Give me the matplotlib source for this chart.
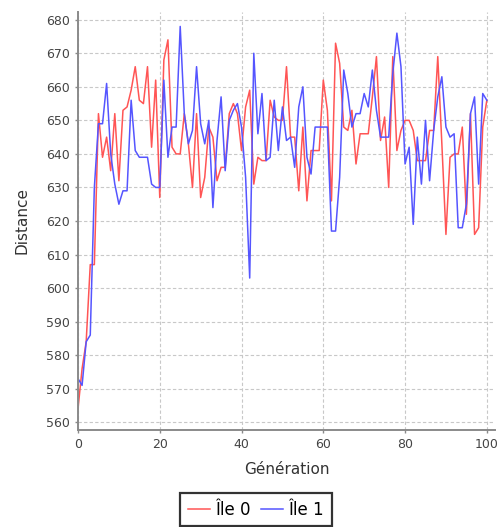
import matplotlib
matplotlib.use("Agg")
import matplotlib.pyplot as plt

generations = list(range(101))

ile0 = [564, 576, 584, 607, 607, 652, 639, 645, 635, 652,
        632, 653, 654, 659, 666, 656, 655, 666, 642, 662,
        627, 668, 674, 642, 640, 640, 652, 643, 630, 652,
        627, 633, 648, 645, 632, 636, 636, 652, 655, 652,
        641, 654, 659, 631, 639, 638, 638, 656, 651, 650,
        650, 666, 645, 645, 629, 648, 626, 641, 641, 641,
        662, 653, 626, 673, 667, 648, 647, 653, 637, 646,
        646, 646, 657, 669, 644, 651, 630, 669, 641, 647,
        650, 650, 647, 638, 638, 638, 647, 647, 669, 643,
        616, 639, 640, 640, 648, 622, 652, 616, 618, 648,
        656]

ile1 = [573, 571, 584, 586, 630, 649, 649, 661, 640, 631,
        625, 629, 629, 656, 641, 639, 639, 639, 631, 630,
        630, 662, 639, 648, 648, 678, 652, 643, 647, 666,
        649, 643, 650, 624, 644, 657, 635, 650, 653, 655,
        648, 633, 603, 670, 646, 658, 638, 639, 656, 641,
        654, 644, 645, 636, 654, 660, 639, 634, 648, 648,
        648, 648, 617, 617, 633, 665, 658, 648, 652, 652,
        658, 654, 665, 653, 645, 645, 645, 664, 676, 666,
        637, 642, 619, 645, 631, 650, 632, 647, 657, 663,
        648, 645, 646, 618, 618, 625, 652, 657, 631, 658,
        656]

x_ticks = [0, 20, 40, 60, 80, 100]
y_ticks = list(range(560, 681, 10))

fig = plt.figure(figsize=(5.03, 5.27), dpi=100)
ax = fig.add_axes([78 / 503, 1 - 430 / 527, (495 - 78) / 503, (430 - 12) / 527])

ax.plot(generations, ile0, color="#ff5555", lw=1.1, label="Île 0")
ax.plot(generations, ile1, color="#5555ff", lw=1.1, label="Île 1")

ax.set_xlim(0, 102)
ax.set_ylim(557.7, 682.3)
ax.set_xticks(x_ticks)
ax.set_yticks(y_ticks)
ax.grid(True, color="#c8c8c8", ls=(0, (3, 2)), lw=0.8)
ax.set_axisbelow(True)

for s in ["top", "right"]:
    ax.spines[s].set_visible(False)
for s in ["left", "bottom"]:
    ax.spines[s].set_color("#8a8a8a")
    ax.spines[s].set_linewidth(1.4)

ax.tick_params(colors="#8a8a8a", labelcolor="#444444", labelsize=9, length=2.5, width=1)
ax.set_xlabel("Génération", fontsize=11, color="#333333", labelpad=8)
ax.set_ylabel("Distance", fontsize=11, color="#333333", labelpad=12)

leg = fig.legend(loc="upper center", bbox_to_anchor=(0.509, 0.0645), ncol=2,
                 fontsize=12, frameon=True, fancybox=False, edgecolor="black",
                 handlelength=1.35, handletextpad=0.3, columnspacing=0.6,
                 borderpad=0.45, borderaxespad=0)
leg.get_frame().set_linewidth(1.6)

fig.savefig("out.png", dpi=100)
